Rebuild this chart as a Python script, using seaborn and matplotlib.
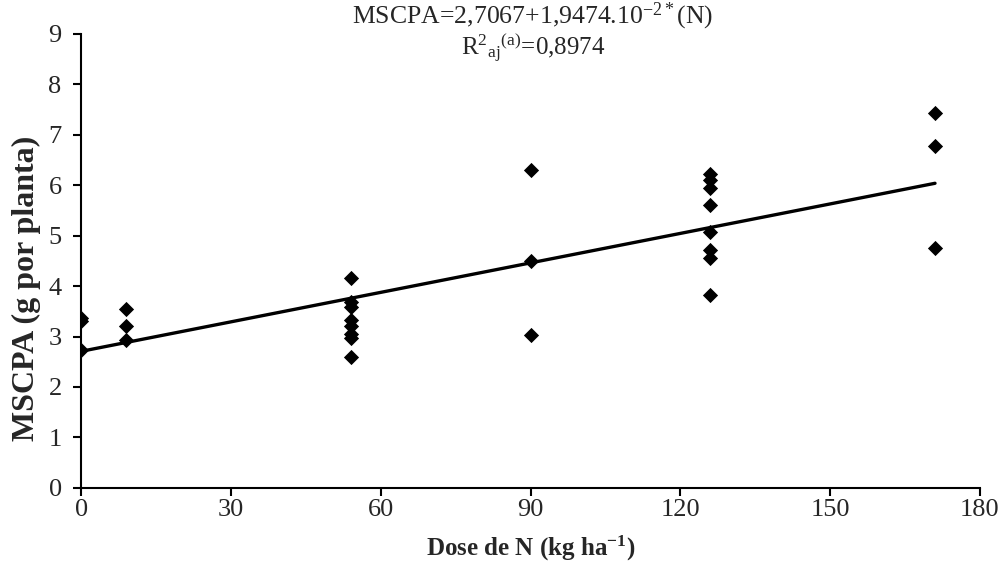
import numpy as np
import pandas as pd
import matplotlib
matplotlib.use("Agg")
import matplotlib.pyplot as plt
import seaborn as sns

# dados
dose = [0, 0, 0,
        9, 9, 9,
        54, 54, 54, 54, 54, 54, 54, 54,
        90, 90, 90,
        126, 126, 126, 126, 126, 126, 126, 126,
        171, 171, 171]
mscpa = [3.37, 3.30, 2.73,
         3.55, 3.20, 2.93,
         4.15, 3.68, 3.58, 3.32, 3.20, 3.05, 2.97, 2.60,
         6.30, 4.50, 3.03,
         6.22, 6.10, 5.95, 5.60, 5.08, 4.72, 4.55, 3.82,
         7.43, 6.78, 4.76]

# ajuste: MSCPA = 2,7067 + 1,9474e-2 * N
b0, b1 = 2.7067, 0.019474
x_fit = np.array([0, 171])

df = pd.DataFrame({"dose": dose, "mscpa": mscpa})
df_fit = pd.DataFrame({"dose": x_fit, "mscpa": b0 + b1 * x_fit})

sns.set_style("ticks")
plt.rcParams["font.family"] = ["Liberation Serif", "DejaVu Serif"]
plt.rcParams["mathtext.fontset"] = "custom"
plt.rcParams["mathtext.rm"] = "Liberation Serif"
plt.rcParams["mathtext.it"] = "Liberation Serif"
plt.rcParams["mathtext.bf"] = "Liberation Serif:bold"

fig = plt.figure(figsize=(10.02, 5.72), dpi=100)
ax = fig.add_axes([0.081, 0.147, 0.897, 0.794])

sns.lineplot(data=df_fit, x="dose", y="mscpa", color="black", linewidth=2.4, ax=ax)
sns.scatterplot(data=df, x="dose", y="mscpa", marker="D", s=60, color="black",
                edgecolor="black", linewidth=0, ax=ax, zorder=3)

ax.set_xlim(0, 180)
ax.set_ylim(0, 9)
ax.set_xticks(range(0, 181, 30))
ax.set_yticks(range(0, 10))
ax.tick_params(axis="both", labelsize=19, length=6, width=1.5, direction="out", color="black")
ax.tick_params(axis="y", pad=8)
ax.tick_params(axis="x", pad=2)
for s in ["left", "bottom"]:
    ax.spines[s].set_linewidth(1.5)
    ax.spines[s].set_color("black")
sns.despine(ax=ax)

ax.set_xlabel(r"Dose de N (kg ha$\mathbf{^{-1}}$)", fontsize=18, fontweight="bold", labelpad=9)
ax.set_ylabel("MSCPA (g por planta)", fontsize=23, fontweight="bold")
ax.yaxis.set_label_coords(-0.045, 0.44)

fig.text(0.532, 0.972, r"MSCPA=2,7067+1,9474.10$^{-2*}$(N)", ha="center", va="center", fontsize=18.5)
fig.text(0.532, 0.916, r"R$^2$$_{aj}$$^{(a)}$=0,8974", ha="center", va="center", fontsize=18)

fig.savefig("out.png", dpi=100)
